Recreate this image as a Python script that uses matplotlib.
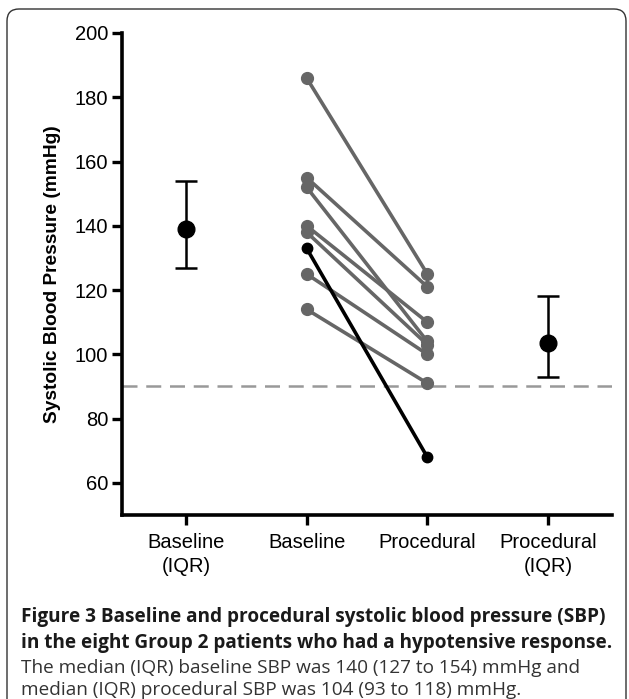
import numpy as np
import matplotlib
matplotlib.use('Agg')
import matplotlib.pyplot as plt
from matplotlib.patches import FancyBboxPatch

# paired patient values (baseline -> procedural), last one is the black line
baseline = [186, 155, 152, 140, 138, 125, 114]
procedural = [125, 121, 104, 110, 103, 100, 91]
black_pair = [133, 68]

# summary median (IQR)
base_med, base_q1, base_q3 = 139, 127, 154
proc_med, proc_q1, proc_q3 = 103.5, 93, 118

categories = ['Baseline\n(IQR)', 'Baseline', 'Procedural', 'Procedural\n(IQR)']
yticks = [60, 80, 100, 120, 140, 160, 180, 200]
threshold = 90

W, H = 629, 699
fig = plt.figure(figsize=(W / 100, H / 100), dpi=100)
ax = fig.add_axes([122 / W, 1 - 515 / H, (612 - 122) / W, (515 - 33) / H])

gray = '#666666'
for b, p in zip(baseline, procedural):
    ax.plot([2, 3], [b, p], color=gray, lw=2.6, marker='o', ms=8.5,
            solid_capstyle='round', zorder=3)
ax.plot([2, 3], black_pair, color='black', lw=2.6, marker='o', ms=7.5, zorder=4)

ax.errorbar([1], [base_med], yerr=[[base_med - base_q1], [base_q3 - base_med]],
            fmt='o', color='black', ms=12, elinewidth=1.8, capsize=8, capthick=1.8)
ax.errorbar([4], [proc_med], yerr=[[proc_med - proc_q1], [proc_q3 - proc_med]],
            fmt='o', color='black', ms=12, elinewidth=1.8, capsize=8, capthick=1.8)

ax.axhline(threshold, color='#999999', lw=1.8, dashes=(6, 3.5), zorder=1)

ax.set_xlim(0.47, 4.53)
ax.set_ylim(50, 200)
ax.set_xticks([1, 2, 3, 4])
ax.set_xticklabels(categories, fontsize=14.5, family='Liberation Sans', linespacing=1.3)
ax.set_yticks(yticks)
ax.set_yticklabels([str(t) for t in yticks], fontsize=14.5, family='Liberation Sans')
ax.tick_params(width=2.4, length=7, pad=3)
ax.tick_params(axis='x', pad=6)
for s in ['top', 'right']:
    ax.spines[s].set_visible(False)
for s in ['left', 'bottom']:
    ax.spines[s].set_linewidth(2.6)
ax.set_ylabel('Systolic Blood Pressure (mmHg)', fontsize=13.8, fontweight='bold',
              family='Liberation Sans', labelpad=10)

# frame round the figure panel
box = FancyBboxPatch((7 / 100, -1.0), (626 - 7) / 100, (H - 9) / 100 + 1.0,
                     boxstyle='round,pad=0,rounding_size=0.12',
                     transform=fig.dpi_scale_trans, fill=False,
                     edgecolor='#333333', lw=1.0)
fig.patches.append(box)

cap_font = 'Open Sans'
cap_size = 13.7
fig.text(21 / W, 1 - 617 / H, 'Figure 3 Baseline and procedural systolic blood pressure (SBP)',
         fontsize=cap_size, fontweight='bold', family=cap_font, color='#1a1a1a', va='center')
fig.text(21 / W, 1 - 643 / H, 'in the eight Group 2 patients who had a hypotensive response.',
         fontsize=cap_size, fontweight='bold', family=cap_font, color='#1a1a1a', va='center')
fig.text(21 / W, 1 - 668 / H, 'The median (IQR) baseline SBP was 140 (127 to 154) mmHg and',
         fontsize=cap_size, family=cap_font, color='#333333', va='center')
fig.text(21 / W, 1 - 690 / H, 'median (IQR) procedural SBP was 104 (93 to 118) mmHg.',
         fontsize=cap_size, family=cap_font, color='#333333', va='center')

fig.savefig('out.png', dpi=100)
